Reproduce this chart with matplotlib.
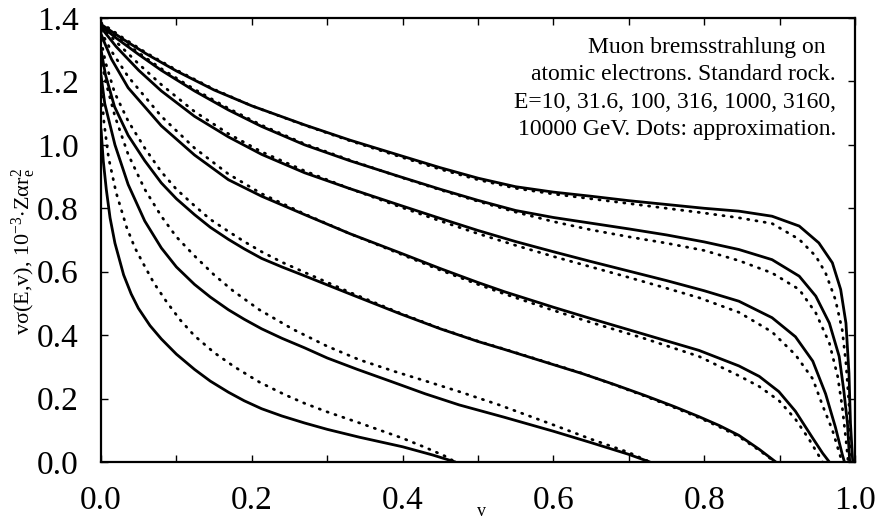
import matplotlib
matplotlib.use("Agg")
import matplotlib.pyplot as plt
from matplotlib.ticker import MultipleLocator

plt.rcParams['font.family'] = ['Liberation Serif', 'DejaVu Serif']
plt.rcParams['mathtext.fontset'] = 'stix'
plt.rcParams['mathtext.default'] = 'regular'

# ---- data ----
energies = ["10", "31.6", "100", "316", "1000", "3160", "10000"]

# 10 GeV
v_g = [0, 0.003, 0.007, 0.012, 0.0185, 0.03, 0.04, 0.0495, 0.065, 0.08, 0.1, 0.124, 0.145, 0.169, 0.19, 0.213, 0.24, 0.27, 0.30, 0.343, 0.40, 0.44, 0.47]
y_g = [1.05, 0.95, 0.86, 0.77, 0.69, 0.59, 0.53, 0.485, 0.43, 0.388, 0.34, 0.292, 0.255, 0.22, 0.193, 0.168, 0.145, 0.123, 0.103, 0.078, 0.048, 0.022, 0.0]
vd_g = [0, 0.004, 0.01, 0.02, 0.034, 0.045, 0.058, 0.07, 0.087, 0.105, 0.124, 0.15, 0.177, 0.21, 0.244, 0.27, 0.30, 0.343, 0.40, 0.431, 0.455, 0.47]
yd_g = [1.18, 1.07, 0.96, 0.85, 0.74, 0.675, 0.617, 0.565, 0.505, 0.448, 0.398, 0.345, 0.30, 0.252, 0.212, 0.185, 0.158, 0.123, 0.075, 0.045, 0.02, 0.0]

# 31.6 GeV
v_f = [0, 0.005, 0.0185, 0.036, 0.058, 0.08, 0.1, 0.124, 0.145, 0.169, 0.19, 0.213, 0.24, 0.27, 0.30, 0.34, 0.387, 0.43, 0.475, 0.535, 0.60, 0.65, 0.70, 0.728]
y_f = [1.22, 1.13, 1.0, 0.875, 0.76, 0.675, 0.615, 0.56, 0.52, 0.48, 0.45, 0.42, 0.39, 0.36, 0.328, 0.292, 0.252, 0.215, 0.18, 0.141, 0.097, 0.061, 0.024, 0.0]
vd_f = [0, 0.005, 0.0185, 0.036, 0.058, 0.08, 0.1, 0.124, 0.15, 0.175, 0.21, 0.255, 0.30, 0.343, 0.39, 0.431, 0.475, 0.528, 0.60, 0.65, 0.70, 0.728]
yd_f = [1.28, 1.21, 1.09, 0.97, 0.86, 0.775, 0.71, 0.65, 0.59, 0.54, 0.48, 0.418, 0.365, 0.322, 0.285, 0.255, 0.222, 0.18, 0.117, 0.072, 0.03, 0.0]

# 100 GeV
v_e = [0, 0.006, 0.018, 0.036, 0.058, 0.08, 0.1, 0.124, 0.145, 0.169, 0.19, 0.213, 0.24, 0.27, 0.33, 0.396, 0.45, 0.5, 0.535, 0.6, 0.638, 0.68, 0.72, 0.76, 0.793, 0.82, 0.846, 0.873, 0.895]
y_e = [1.30, 1.22, 1.12, 1.03, 0.95, 0.88, 0.83, 0.78, 0.74, 0.702, 0.672, 0.642, 0.615, 0.587, 0.53, 0.468, 0.42, 0.38, 0.355, 0.307, 0.279, 0.245, 0.211, 0.175, 0.143, 0.115, 0.084, 0.04, 0.0]
vd_e = [0, 0.006, 0.018, 0.036, 0.058, 0.08, 0.1, 0.124, 0.145, 0.169, 0.19, 0.213, 0.24, 0.27, 0.33, 0.396, 0.45, 0.5, 0.535, 0.6, 0.638, 0.68, 0.72, 0.76, 0.793, 0.82, 0.846, 0.873, 0.894]
yd_e = [1.33, 1.26, 1.165, 1.075, 0.99, 0.915, 0.86, 0.808, 0.765, 0.727, 0.695, 0.663, 0.63, 0.598, 0.535, 0.47, 0.421, 0.381, 0.356, 0.308, 0.28, 0.244, 0.209, 0.172, 0.14, 0.111, 0.08, 0.037, 0.0]

# 316 GeV
v_d = [0, 0.005, 0.014, 0.036, 0.08, 0.124, 0.169, 0.213, 0.27, 0.33, 0.396, 0.45, 0.5, 0.535, 0.6, 0.65, 0.72, 0.793, 0.846, 0.873, 0.899, 0.921, 0.944, 0.957, 0.966]
y_d = [1.35, 1.32, 1.27, 1.18, 1.06, 0.968, 0.89, 0.838, 0.78, 0.72, 0.66, 0.61, 0.566, 0.537, 0.488, 0.452, 0.403, 0.352, 0.303, 0.27, 0.222, 0.16, 0.075, 0.028, 0.0]
vd_d = [0, 0.005, 0.014, 0.036, 0.08, 0.124, 0.169, 0.213, 0.27, 0.33, 0.396, 0.45, 0.5, 0.535, 0.6, 0.65, 0.72, 0.793, 0.846, 0.873, 0.899, 0.921, 0.939, 0.952, 0.957]
yd_d = [1.36, 1.335, 1.295, 1.215, 1.09, 0.99, 0.908, 0.846, 0.782, 0.72, 0.657, 0.605, 0.56, 0.53, 0.478, 0.44, 0.39, 0.333, 0.272, 0.238, 0.194, 0.135, 0.072, 0.02, 0.0]

# 1000 GeV
v_c = [0, 0.02, 0.05, 0.08, 0.124, 0.169, 0.213, 0.27, 0.33, 0.396, 0.45, 0.5, 0.55, 0.6, 0.65, 0.7, 0.75, 0.8, 0.846, 0.89, 0.921, 0.944, 0.961, 0.974, 0.983, 0.986]
y_c = [1.37, 1.31, 1.235, 1.17, 1.09, 1.025, 0.97, 0.912, 0.862, 0.81, 0.768, 0.73, 0.695, 0.663, 0.632, 0.602, 0.572, 0.54, 0.507, 0.455, 0.395, 0.318, 0.215, 0.11, 0.025, 0.0]
vd_c = [0, 0.02, 0.05, 0.08, 0.124, 0.169, 0.213, 0.27, 0.33, 0.396, 0.45, 0.5, 0.55, 0.6, 0.65, 0.7, 0.75, 0.793, 0.846, 0.89, 0.921, 0.944, 0.957, 0.970, 0.979, 0.983]
yd_c = [1.375, 1.325, 1.255, 1.19, 1.105, 1.035, 0.978, 0.918, 0.862, 0.805, 0.76, 0.72, 0.683, 0.648, 0.615, 0.582, 0.548, 0.518, 0.472, 0.41, 0.338, 0.262, 0.178, 0.101, 0.03, 0.0]

# 3160 GeV
v_b = [0, 0.02, 0.05, 0.08, 0.124, 0.169, 0.213, 0.27, 0.33, 0.396, 0.45, 0.5, 0.55, 0.6, 0.65, 0.7, 0.75, 0.8, 0.846, 0.89, 0.926, 0.948, 0.966, 0.979, 0.985, 0.990, 0.993]
y_b = [1.375, 1.337, 1.285, 1.235, 1.17, 1.11, 1.058, 1.0, 0.95, 0.90, 0.86, 0.825, 0.793, 0.771, 0.753, 0.735, 0.716, 0.694, 0.670, 0.638, 0.586, 0.523, 0.438, 0.333, 0.228, 0.122, 0.0]
vd_b = [0, 0.02, 0.05, 0.08, 0.124, 0.169, 0.213, 0.27, 0.33, 0.396, 0.45, 0.5, 0.55, 0.6, 0.65, 0.7, 0.75, 0.8, 0.846, 0.89, 0.926, 0.948, 0.966, 0.977, 0.983, 0.988, 0.991]
yd_b = [1.38, 1.342, 1.29, 1.24, 1.175, 1.115, 1.062, 1.003, 0.952, 0.899, 0.858, 0.822, 0.788, 0.758, 0.732, 0.71, 0.69, 0.667, 0.635, 0.596, 0.544, 0.47, 0.375, 0.27, 0.175, 0.07, 0.0]

# 10000 GeV
v_a = [0, 0.03, 0.06, 0.1, 0.15, 0.2, 0.27, 0.33, 0.396, 0.45, 0.5, 0.55, 0.6, 0.65, 0.7, 0.75, 0.8, 0.846, 0.89, 0.926, 0.952, 0.970, 0.981, 0.988, 0.992, 0.994, 0.997]
y_a = [1.38, 1.332, 1.287, 1.233, 1.173, 1.123, 1.063, 1.015, 0.967, 0.928, 0.895, 0.868, 0.851, 0.838, 0.824, 0.812, 0.80, 0.791, 0.775, 0.744, 0.691, 0.628, 0.544, 0.438, 0.28, 0.122, 0.0]
vd_a = [0, 0.03, 0.06, 0.1, 0.15, 0.2, 0.27, 0.33, 0.396, 0.45, 0.5, 0.55, 0.6, 0.65, 0.7, 0.75, 0.8, 0.846, 0.89, 0.926, 0.948, 0.961, 0.974, 0.983, 0.988, 0.992, 0.994, 0.996]
yd_a = [1.385, 1.336, 1.29, 1.236, 1.175, 1.123, 1.062, 1.013, 0.963, 0.923, 0.89, 0.863, 0.845, 0.83, 0.815, 0.80, 0.785, 0.77, 0.752, 0.702, 0.649, 0.596, 0.512, 0.417, 0.312, 0.186, 0.06, 0.0]

exact = [(v_g, y_g), (v_f, y_f), (v_e, y_e), (v_d, y_d), (v_c, y_c), (v_b, y_b), (v_a, y_a)]
approx = [(vd_g, yd_g), (vd_f, yd_f), (vd_e, yd_e), (vd_d, yd_d), (vd_c, yd_c), (vd_b, yd_b), (vd_a, yd_a)]

x_ticks = [0.0, 0.2, 0.4, 0.6, 0.8, 1.0]
x_labels = ["0.0", "0.2", "0.4", "0.6", "0.8", "1.0"]
y_ticks = [0.0, 0.2, 0.4, 0.6, 0.8, 1.0, 1.2, 1.4]
y_labels = ["0.0", "0.2", "0.4", "0.6", "0.8", "1.0", "1.2", "1.4"]

note_lines = ["Muon bremsstrahlung on",
              "atomic electrons. Standard rock.",
              "E=10, 31.6, 100, 316, 1000, 3160,",
              "10000 GeV. Dots: approximation."]

# ---- figure ----
W, H = 885, 527
fig = plt.figure(figsize=(W / 100, H / 100), dpi=100)
ax = fig.add_axes([101 / W, 1 - 462 / H, (855 - 101) / W, (462 - 18) / H])

for vv, yy in exact:
    ax.plot(vv, yy, color='black', lw=2.0, solid_capstyle='round', solid_joinstyle='round')
for vv, yy in approx:
    ax.plot(vv, yy, color='black', lw=2.0, linestyle=(0, (0.4, 2.6)), dash_capstyle='round')

ax.set_xlim(0, 1.0)
ax.set_ylim(0, 1.4)
ax.set_xticks(x_ticks)
ax.set_xticklabels(x_labels)
ax.set_yticks(y_ticks)
ax.set_yticklabels(y_labels)
ax.xaxis.set_minor_locator(MultipleLocator(0.1))

ax.tick_params(axis='both', which='both', direction='in', top=True, right=True,
               length=5, width=1.0, color='black')
ax.tick_params(axis='y', labelsize=24, pad=16)
ax.tick_params(axis='x', labelsize=24, pad=17)
for s in ax.spines.values():
    s.set_linewidth(1.6)
    s.set_color('black')

# axis titles
fig.text(24 / W, 1 - 252 / H, r"v$\sigma$(E,v), 10$^{-3}$$\cdot$Z$\alpha$r$_e^2$",
         rotation=90, ha='center', va='center', fontsize=16)
fig.text(481 / W, 1 - 512 / H, "v", ha='center', va='center', fontsize=13)

# annotation
note_x = [826, 836, 836, 836]
note_y = [47, 75, 102, 130]
for t, xx, yy in zip(note_lines, note_x, note_y):
    fig.text(xx / W, 1 - yy / H, t, ha='right', va='center', fontsize=17)

fig.savefig("out.png", dpi=100, facecolor='white')
